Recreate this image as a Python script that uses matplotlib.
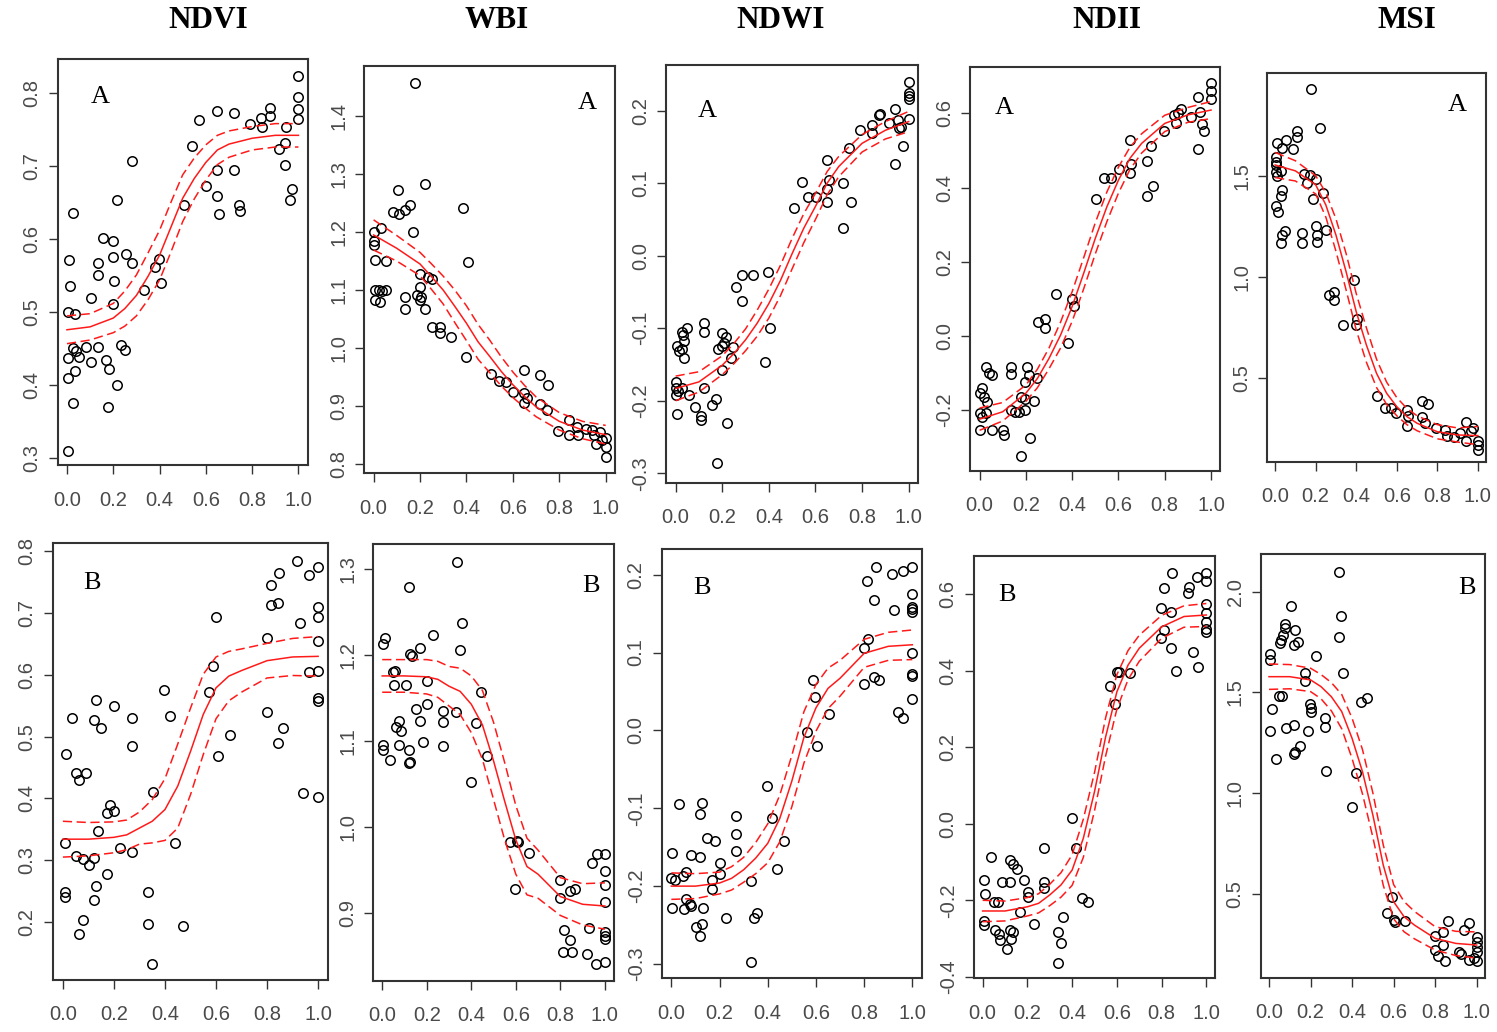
import numpy as np
import matplotlib
matplotlib.use("Agg")
import matplotlib.pyplot as plt
from matplotlib.ticker import FormatStrFormatter

plt.rcParams['font.family'] = ['Liberation Sans', 'DejaVu Sans']

# x grid on which the fitted curves were read
CX = [0, .1, .2, .25, .3, .35, .4, .45, .5, .55, .6, .65, .7, .8, .9, 1.0]

# ---------------- row A ----------------
ndvi_a_x = [1.0, 1.0, 1.0, 1.0, .878, .84, .842, .875, .789, .72, .649, .57, .54, .947, .942, .914, .94, .971,
            .964, .72, .649, .599, .649, .656, .742, .748, .505, .283, .217, .026, .155, .197, .197, .255, .283,
            .134, .134, .007, .012, .102, .204, .197, .006, .033, .334, .381, .399, .406, .026, .04, .05, .083,
            .134, .235, .249, .004, .102, .168, .181, .033, .004, .217, .026, .176, .004]
ndvi_a_y = [.823, .795, .778, .765, .780, .766, .754, .769, .757, .773, .775, .763, .728, .754, .732, .723, .702, .669,
            .654, .694, .694, .672, .659, .634, .646, .639, .646, .707, .654, .636, .601, .598, .576, .580, .568,
            .568, .551, .571, .536, .520, .543, .511, .500, .497, .530, .562, .573, .540, .451, .447, .439, .452,
            .452, .455, .449, .437, .432, .435, .422, .420, .410, .401, .376, .371, .310]
ndvi_a_fit = [.476, .480, .492, .505, .523, .549, .578, .617, .656, .683, .705, .722, .730, .738, .742, .742]
ndvi_a_hw = [.019, .018, .02, .024, .028, .032, .034, .034, .032, .028, .024, .02, .018, .016, .016, .016]

wbi_a_x = [.177, .22, .105, .083, .108, .134, .155, .17, .384, .406, 0.0, .033, 0.0, 0.0, .004, .055, .004, .023,
           .036, .053, .004, .026, .134, .134, .199, .199, .187, .206, .199, .22, .235, .252, .252, .285, .285,
           .335, .399, .506, .542, .57, .599, .65, .65, .65, .66, .719, .751, .719, .745, .794, .842, .842,
           .878, .881, .917, .942, .95, .957, .975, 1.0, 1.0, 1.0, .983]
wbi_a_y = [1.456, 1.282, 1.273, 1.235, 1.231, 1.238, 1.247, 1.200, 1.241, 1.149, 1.2, 1.207, 1.184, 1.178, 1.152,
           1.150, 1.100, 1.100, 1.099, 1.100, 1.083, 1.080, 1.089, 1.067, 1.127, 1.106, 1.092, 1.089, 1.083,
           1.067, 1.123, 1.120, 1.037, 1.037, 1.026, 1.020, .984, .956, .944, .942, .925, .963, .922, .905,
           .915, .954, .937, .903, .893, .858, .876, .851, .865, .851, .860, .859, .851, .835, .856, .845,
           .830, .812, .842]
wbi_a_fit = [1.195, 1.172, 1.145, 1.123, 1.100, 1.072, 1.043, 1.011, .986, .960, .937, .917, .899, .874, .859, .851]
wbi_a_hw = [.026, .022, .02, .022, .024, .028, .03, .03, .028, .025, .022, .019, .017, .015, .015, .016]

ndwi_a_x = [1.0, 1.0, 1.0, 1.0, 1.0, .943, .953, .917, .967, .957, .974, .943, .877, .874, .842, .842, .792, .745,
            .648, .659, .648, .648, .719, .751, .719, .544, .57, .602, .507, .398, .284, .334, .258, .284, .405,
            .384, .05, .026, .033, .036, .026, .007, .014, .036, .122, .122, .198, .218, .208, .198, .183, .248,
            .236, .198, 0.0, 0.0, .011, .029, .003, .057, .122, .172, .155, .083, .108, .108, .007, .222, .179]
ndwi_a_y = [.239, .224, .220, .216, .189, .202, .187, .183, .177, .176, .151, .127, .196, .194, .180, .169, .174,
            .149, .132, .105, .092, .074, .100, .074, .038, .102, .081, .081, .066, -.022, -.027, -.027, -.043,
            -.063, -.099, -.146, -.099, -.105, -.109, -.118, -.128, -.124, -.132, -.141, -.093, -.105, -.107,
            -.112, -.120, -.125, -.128, -.126, -.141, -.157, -.174, -.183, -.187, -.183, -.192, -.192, -.183,
            -.197, -.206, -.208, -.221, -.226, -.218, -.231, -.286]
ndwi_a_fit = [-.183, -.174, -.151, -.135, -.116, -.093, -.066, -.034, .003, .038, .068, .100, .123, .155, .173, .185]
ndwi_a_hw = [.017, .014, .013, .014, .015, .018, .02, .021, .021, .02, .018, .016, .014, .012, .012, .014]

ndii_a_x = [1.0, 1.0, 1.0, .943, .953, .943, .971, .963, .914, .871, .856, .842, .848, .795, .741, .723, .751,
            .723, .651, .655, .651, .601, .569, .539, .504, .332, .4, .407, .382, .253, .284, .284, .026, .04,
            .052, .134, .134, .205, .213, .249, .195, .011, .001, .019, .033, .18, .195, .234, 0.0, .011, .026,
            .004, .055, .102, .105, .134, .155, .17, .198, .22, .177]
ndii_a_y = [.683, .661, .640, .643, .604, .503, .552, .571, .591, .613, .600, .596, .575, .552, .512, .472, .405,
            .378, .528, .463, .440, .450, .427, .427, .369, .112, .099, .080, -.019, .038, .045, .022, -.085,
            -.101, -.107, -.085, -.104, -.085, -.106, -.113, -.124, -.142, -.155, -.164, -.178, -.164, -.171,
            -.175, -.209, -.220, -.209, -.254, -.254, -.254, -.267, -.2, -.205, -.205, -.2, -.275, -.324]
ndii_a_fit = [-.225, -.205, -.155, -.115, -.061, .002, .079, .169, .263, .348, .420, .479, .519, .573, .596, .609]
ndii_a_hw = [.03, .025, .022, .025, .028, .035, .04, .042, .042, .04, .035, .03, .026, .022, .02, .023]

msi_a_x = [.176, .222, .107, .107, .056, .007, .033, .086, .003, .003, .003, .003, .028, .007, .14, .171, .201,
           .156, .036, .028, .234, .187, .003, .012, .201, .209, .25, .206, .049, .033, .028, .135, .135, .264,
           .288, .288, .387, .404, .399, .336, .502, .544, .572, .596, .651, .654, .651, .725, .753, .725, .741,
           .794, .84, .847, .881, .914, .942, .942, .967, .975, 1.0, 1.0, 1.0]
msi_a_y = [1.930, 1.736, 1.724, 1.694, 1.678, 1.665, 1.640, 1.632, 1.591, 1.571, 1.554, 1.518, 1.525, 1.5, 1.508,
           1.505, 1.484, 1.464, 1.431, 1.401, 1.414, 1.385, 1.352, 1.324, 1.253, 1.208, 1.233, 1.175, 1.230,
           1.208, 1.167, 1.217, 1.167, .912, .928, .887, .985, .792, .764, .764, .413, .352, .352, .327, .343,
           .315, .266, .388, .371, .311, .278, .253, .245, .215, .212, .228, .286, .190, .240, .253, .190,
           .170, .146]
msi_a_fit = [1.554, 1.525, 1.456, 1.357, 1.208, 1.027, .829, .665, .525, .426, .360, .311, .278, .236, .220, .217]
msi_a_hw = [.062, .05, .045, .06, .08, .09, .09, .085, .07, .055, .045, .04, .037, .035, .035, .045]

# ---------------- row B ----------------
ndvi_b_x = [.918, 1.0, .964, .848, .814, .814, .841, 1.0, 1.0, .928, .798, 1.0, .964, 1.0, 1.0, 1.0, .798, .863,
            .841, .941, 1.0, .6, .59, .572, .655, .607, .398, .421, .355, .441, .333, .333, .47, .349, .13, .199,
            .121, .15, .034, .271, .271, .014, .051, .089, .063, .184, .171, .199, .137, .007, .225, .271, .053,
            .079, .121, .104, .171, .13, .007, .007, .121, .079, .063]
ndvi_b_y = [.784, .774, .761, .765, .746, .713, .716, .710, .694, .684, .659, .655, .604, .607, .563, .557, .540,
            .514, .489, .408, .402, .694, .614, .572, .502, .469, .575, .533, .411, .328, .248, .197, .193, .132,
            .559, .549, .527, .514, .530, .530, .485, .472, .441, .441, .430, .390, .377, .379, .348, .328, .319,
            .314, .306, .302, .303, .293, .277, .258, .248, .241, .235, .203, .180]
ndvi_b_fit = [.334, .334, .337, .341, .352, .363, .382, .420, .476, .536, .579, .598, .607, .623, .629, .630]
ndvi_b_hw = [.029, .027, .025, .024, .026, .035, .05, .068, .07, .065, .05, .04, .035, .028, .03, .032]

wbi_b_x = [.335, .12, .357, .227, .35, .012, .005, .17, .125, .132, .057, .05, .054, .107, .2, .444, .42, .332,
           .272, .272, .2, .15, .17, .077, .062, .084, .077, .182, .272, .005, .005, .12, .035, .125, .122, .47,
           .4, .575, .605, .61, .658, .595, .797, .8, .842, .865, .943, .965, 1.0, 1.0, 1.0, 1.0, .928, .815,
           .842, .812, .853, .92, .962, 1.0, 1.0, 1.0, 1.0]
wbi_b_y = [1.309, 1.279, 1.238, 1.224, 1.206, 1.220, 1.213, 1.208, 1.201, 1.199, 1.182, 1.180, 1.166, 1.166,
           1.170, 1.157, 1.121, 1.134, 1.135, 1.122, 1.143, 1.138, 1.124, 1.124, 1.116, 1.112, 1.096, 1.099,
           1.094, 1.096, 1.090, 1.090, 1.078, 1.076, 1.074, 1.083, 1.052, .982, .984, .982, .970, .928, .938,
           .917, .926, .928, .958, .968, .968, .949, .933, .913, .882, .880, .868, .854, .854, .852, .841,
           .843, .878, .873, .869]
wbi_b_fit = [1.176, 1.176, 1.175, 1.172, 1.164, 1.158, 1.143, 1.119, 1.077, 1.030, .985, .954, .945, .919, .910, .908]
wbi_b_hw = [.019, .019, .02, .021, .023, .027, .033, .04, .045, .045, .04, .033, .028, .022, .024, .027]

ndwi_b_x = [.848, .917, .96, .997, .811, .841, .925, .997, .997, .997, .997, .814, .8, .997, .997, .997, .997,
            .839, .86, .8, .94, .96, .589, .596, .654, .564, .603, .396, .417, .468, .437, .331, .356, .345, .331,
            .228, .127, .117, .032, .268, .268, .268, .149, .183, .004, .083, .12, .2, .2, .062, .048, 0.0, .014,
            .169, .169, .059, .076, .083, .004, .052, .131, .127, .103, .12]
ndwi_b_y = [.210, .201, .205, .210, .192, .167, .155, .175, .159, .156, .152, .117, .106, .100, .072, .070, .040,
            .068, .065, .060, .024, .016, .065, .043, .021, -.002, -.020, -.072, -.112, -.142, -.178, -.193,
            -.234, -.241, -.298, -.241, -.093, -.107, -.095, -.110, -.133, -.155, -.138, -.142, -.157, -.160,
            -.163, -.170, -.184, -.182, -.187, -.190, -.192, -.192, -.204, -.217, -.223, -.226, -.228, -.230,
            -.228, -.249, -.253, -.264]
ndwi_b_fit = [-.200, -.200, -.196, -.190, -.179, -.164, -.145, -.113, -.065, -.009, .029, .054, .067, .099, .108, .110]
ndwi_b_hw = [.017, .016, .014, .015, .016, .02, .025, .03, .033, .033, .03, .026, .023, .018, .018, .019]

ndii_b_x = [.845, .811, .923, .918, .96, 1.0, 1.0, 1.0, 1.0, 1.0, 1.0, 1.0, .796, .841, .811, .799, .841, .94,
            .863, .963, .602, .61, .658, .569, .59, .4, .419, .037, .122, .134, .152, .273, .004, .085, .122,
            .186, .273, .273, .201, .201, .012, .052, .067, .442, .472, .168, .228, .357, .004, .004, .056, .071,
            .079, .122, .134, .127, .107, .335, .35, .335]
ndii_b_y = [.655, .616, .620, .603, .644, .655, .635, .576, .550, .528, .509, .502, .565, .555, .507, .485, .459,
            .448, .400, .409, .398, .396, .393, .359, .312, .016, -.063, -.088, -.095, -.104, -.117, -.063,
            -.147, -.153, -.153, -.147, -.152, -.167, -.178, -.191, -.184, -.204, -.204, -.193, -.204, -.230,
            -.263, -.243, -.254, -.265, -.278, -.287, -.304, -.278, -.284, -.301, -.328, -.284, -.313, -.363]
ndii_b_fit = [-.228, -.228, -.217, -.208, -.186, -.160, -.121, -.038, .084, .228, .345, .415, .459, .515, .542, .546]
ndii_b_hw = [.028, .026, .024, .025, .028, .032, .04, .05, .05, .05, .045, .038, .034, .03, .028, .03]

msi_b_x = [.336, .348, .335, .355, .107, .076, .076, .068, .058, .055, .126, .139, .122, .226, .003, .003, .171,
           .171, .047, .063, .471, .442, .197, .2, .2, .013, .272, .272, .122, .084, .005, .186, .15, .126, .118,
           .035, .273, .419, .398, .592, .569, .6, .608, .656, .861, .964, .94, .839, .797, .837, .797, .812,
           .848, .916, .924, .964, 1.0, 1.0, 1.0, 1.0, 1.0, .987]
msi_b_y = [2.099, 1.881, 1.777, 1.598, 1.931, 1.838, 1.818, 1.785, 1.760, 1.747, 1.810, 1.752, 1.735, 1.681,
           1.689, 1.661, 1.595, 1.557, 1.482, 1.482, 1.471, 1.451, 1.441, 1.421, 1.405, 1.416, 1.372, 1.330,
           1.339, 1.322, 1.310, 1.310, 1.236, 1.206, 1.193, 1.168, 1.110, 1.099, .930, .483, .404, .371, .360,
           .366, .366, .358, .321, .310, .293, .247, .222, .194, .168, .214, .201, .173, .288, .264, .239, .214,
           .168, .181]
msi_b_fit = [1.578, 1.578, 1.562, 1.529, 1.479, 1.405, 1.272, 1.107, .892, .644, .462, .388, .346, .280, .255, .247]
msi_b_hw = [.063, .06, .058, .06, .07, .085, .1, .11, .11, .1, .085, .075, .068, .058, .06, .065]

titles = ["NDVI", "WBI", "NDWI", "NDII", "MSI"]
title_x = [208, 497, 781, 1107, 1407]

W, H = 1497, 1032
fig = plt.figure(figsize=(W / 100, H / 100), dpi=100)


def box(l, t, r, b):
    return [l / W, 1 - b / H, (r - l) / W, (b - t) / H]


# (data, box in pixels, ylim, yticks, letter, letter position)
panels = [
    (ndvi_a_x, ndvi_a_y, ndvi_a_fit, ndvi_a_hw, (57.7, 59.3, 307.7, 465), (.291, .846), np.arange(.3, .81, .1), "A", (100, 97)),
    (wbi_a_x, wbi_a_y, wbi_a_fit, wbi_a_hw, (364.3, 66, 615, 473.3), (.7845, 1.486), np.arange(.8, 1.41, .1), "A", (587, 103)),
    (ndwi_a_x, ndwi_a_y, ndwi_a_fit, ndwi_a_hw, (666.3, 65, 918, 482.7), (-.313, .263), np.arange(-.3, .21, .1), "A", (707, 111)),
    (ndii_a_x, ndii_a_y, ndii_a_fit, ndii_a_hw, (970.3, 66.7, 1220.3, 470.7), (-.364, .726), np.arange(-.2, .61, .2), "A", (1004, 108)),
    (msi_a_x, msi_a_y, msi_a_fit, msi_a_hw, (1267, 73.3, 1486, 461.7), (.088, 2.007), np.arange(.5, 1.51, .5), "A", (1457, 105)),
    (ndvi_b_x, ndvi_b_y, ndvi_b_fit, ndvi_b_hw, (52.7, 543, 328.3, 979.7), (.1065, .8135), np.arange(.2, .81, .1), "B", (92, 583)),
    (wbi_b_x, wbi_b_y, wbi_b_fit, wbi_b_hw, (373.3, 543.7, 613.8, 980.7), (.821, 1.330), np.arange(.9, 1.31, .1), "B", (591, 586)),
    (ndwi_b_x, ndwi_b_y, ndwi_b_fit, ndwi_b_hw, (661.7, 549, 922, 978), (-.318, .233), np.arange(-.3, .21, .1), "B", (702, 588)),
    (ndii_b_x, ndii_b_y, ndii_b_fit, ndii_b_hw, (973.7, 555.7, 1215.3, 978.3), (-.404, .701), np.arange(-.4, .61, .2), "B", (1007, 595)),
    (msi_b_x, msi_b_y, msi_b_fit, msi_b_hw, (1260.7, 554.3, 1485, 977.7), (.085, 2.185), np.arange(.5, 2.01, .5), "B", (1467, 588)),
]

cx = np.array(CX)
for px, py, fit, hw, bx, ylim, yt, letter, lpos in panels:
    ax = fig.add_axes(box(*bx))
    fit = np.array(fit)
    hw = np.array(hw)
    ax.plot(px, py, linestyle='none', marker='o', mfc='none', mec='black', ms=6.8, mew=1.1)
    ax.plot(cx, fit, color='#ff1a1a', lw=1.1)
    ax.plot(cx, fit + hw, color='#ff1a1a', lw=1.1, ls=(0, (6, 3)))
    ax.plot(cx, fit - hw, color='#ff1a1a', lw=1.1, ls=(0, (6, 3)))
    ax.set_xlim(-.04, 1.04)
    ax.set_ylim(*ylim)
    ax.set_xticks(np.arange(0, 1.01, .2))
    ax.set_yticks(yt)
    ax.xaxis.set_major_formatter(FormatStrFormatter('%.1f'))
    ax.yaxis.set_major_formatter(FormatStrFormatter('%.1f'))
    for s in ax.spines.values():
        s.set_linewidth(1.5)
        s.set_color('#333333')
    ax.tick_params(direction='out', length=6.5, width=1.0, color='#333333',
                   labelsize=14.5, labelcolor='#4a4a4a')
    ax.tick_params(axis='x', pad=12)
    ax.tick_params(axis='y', labelrotation=90, pad=5)
    for lab in ax.get_yticklabels():
        lab.set_va('center')
    fig.text(lpos[0] / W, 1 - lpos[1] / H, letter, ha='center', va='center',
             fontsize=19, family='Liberation Serif')

for t, x in zip(titles, title_x):
    fig.text(x / W, 1 - 20 / H, t, ha='center', va='center', fontsize=22.5,
             fontweight='bold', family='Liberation Serif')

fig.savefig("out.png", dpi=100)
